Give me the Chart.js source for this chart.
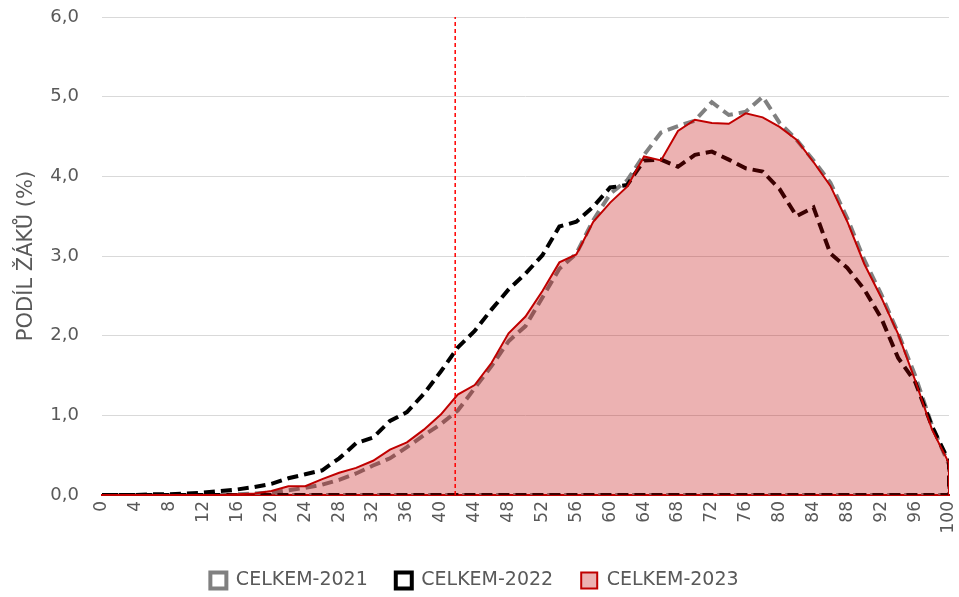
<!DOCTYPE html>
<html>
<head>
<meta charset="utf-8">
<script src="https://cdn.jsdelivr.net/npm/chart.js@4.4.1/dist/chart.umd.min.js"></script>
<style>
  html,body{margin:0;padding:0;background:#fff;}
</style>
</head>
<body>
<canvas id="chart" width="959" height="597"></canvas>
<script>
/* Body (0 - 100), po 2 */
const scores = [0,2,4,6,8,10,12,14,16,18,20,22,24,26,28,30,32,34,36,38,40,42,44,46,48,50,52,54,56,58,60,62,64,66,68,70,72,74,76,78,80,82,84,86,88,90,92,94,96,98,100];

/* Podíl žáků v % */
const celkem2021 = [0,0,0,0,0,0,0,0,0.01,0.02,0.03,0.06,0.09,0.13,0.19,0.27,0.37,0.46,0.6,0.75,0.89,1.06,1.34,1.62,1.93,2.12,2.48,2.84,3.03,3.45,3.78,3.95,4.27,4.55,4.63,4.7,4.93,4.77,4.81,5.0,4.67,4.46,4.2,3.92,3.47,2.95,2.52,2.03,1.5,0.87,0.38];
const celkem2022 = [0,0,0,0.01,0.01,0.02,0.03,0.05,0.07,0.1,0.14,0.21,0.26,0.31,0.46,0.65,0.72,0.93,1.04,1.27,1.55,1.85,2.06,2.33,2.58,2.78,3.01,3.37,3.43,3.62,3.86,3.89,4.2,4.21,4.12,4.27,4.31,4.21,4.1,4.06,3.84,3.5,3.61,3.03,2.85,2.58,2.22,1.72,1.42,0.86,0.42];
const celkem2023 = [0,0,0,0,0,0,0,0,0.01,0.02,0.05,0.11,0.11,0.2,0.28,0.34,0.43,0.57,0.66,0.82,1.01,1.26,1.38,1.66,2.03,2.24,2.56,2.92,3.02,3.43,3.67,3.87,4.25,4.2,4.57,4.71,4.67,4.66,4.79,4.74,4.62,4.46,4.18,3.88,3.43,2.9,2.48,2.02,1.44,0.82,0.4];

const seriesNames = ["CELKEM-2021","CELKEM-2022","CELKEM-2023"];
const threshold = 41.7;

const yTicks = [0,1,2,3,4,5,6];
const xTickStep = 4;

const FONT = "'DejaVu Sans', sans-serif";
const GREY_TEXT = "#595959";

/* obrys plochy jako v Excelu: dolů na nulu u 100, pro nevyplněné i zpátky po nule */
const outline = (vals, back) => {
  const pts = scores.map((s,i)=>({x:s,y:vals[i]}));
  pts.push({x:scores[scores.length-1],y:0});
  if(back) pts.push({x:scores[0],y:0});
  return pts;
};

const legendBoxes = [
  {fillStyle:"#ffffff", strokeStyle:"#808080", lineWidth:4},
  {fillStyle:"#ffffff", strokeStyle:"#000000", lineWidth:4},
  {fillStyle:"rgba(192,0,0,0.3)", strokeStyle:"#C00000", lineWidth:2}
];

const ctx = document.getElementById("chart");
new Chart(ctx,{
  type:"line",
  data:{
    datasets:[
      {label:seriesNames[0],data:outline(celkem2021,true),borderColor:"#808080",borderWidth:4,borderDash:[11,6],fill:false,pointRadius:0,order:2},
      {label:seriesNames[1],data:outline(celkem2022,true),borderColor:"#000000",borderWidth:4,borderDash:[11,6],fill:false,pointRadius:0,order:1},
      {label:seriesNames[2],data:outline(celkem2023,false),borderColor:"#C00000",borderWidth:2,backgroundColor:"rgba(192,0,0,0.3)",fill:"origin",pointRadius:0,order:0},
      {label:"hranice",data:[{x:threshold,y:yTicks[0]},{x:threshold,y:yTicks[yTicks.length-1]}],borderColor:"#FF0000",borderWidth:1.5,borderDash:[4,3],fill:false,pointRadius:0,order:-1}
    ]
  },
  options:{
    responsive:false,
    animation:false,
    layout:{padding:{left:0,right:10,top:17,bottom:0}},
    plugins:{
      tooltip:{enabled:false},
      legend:{
        position:"bottom",
        maxHeight:54,
        labels:{
          font:{family:FONT,size:19},
          color:GREY_TEXT,
          boxWidth:16,
          boxHeight:16,
          padding:28,
          filter:item=>item.datasetIndex<3,
          sort:(a,b)=>a.datasetIndex-b.datasetIndex,
          generateLabels:chart=>chart.data.datasets.map((ds,i)=>Object.assign({
            text:ds.label,
            datasetIndex:i,
            hidden:false,
            fontColor:GREY_TEXT
          },legendBoxes[i]||{}))
        }
      }
    },
    scales:{
      x:{
        type:"linear",
        min:scores[0],
        max:scores[scores.length-1],
        grid:{display:false,drawTicks:false},
        border:{display:true,color:"#C00000",width:2},
        ticks:{
          stepSize:xTickStep,
          minRotation:90,
          maxRotation:90,
          padding:6,
          color:GREY_TEXT,
          font:{family:FONT,size:17}
        },
        afterFit:s=>{s.height=48;s.paddingRight=0;s.paddingLeft=0;}
      },
      y:{
        min:yTicks[0],
        max:yTicks[yTicks.length-1],
        grid:{color:"#D9D9D9",lineWidth:1,drawTicks:false},
        border:{display:false},
        title:{display:true,text:"PODÍL ŽÁKŮ (%)",color:GREY_TEXT,font:{family:FONT,size:21},padding:{top:14,bottom:0}},
        ticks:{
          stepSize:1,
          padding:23,
          color:GREY_TEXT,
          font:{family:FONT,size:18},
          callback:v=>v.toFixed(1).replace(".",",")
        },
        afterFit:s=>{s.width=102;s.paddingTop=0;s.paddingBottom=0;}
      }
    }
  }
});
</script>
</body>
</html>
